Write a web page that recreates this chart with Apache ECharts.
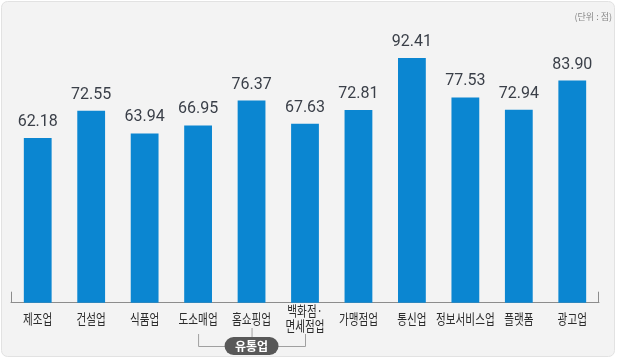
<!DOCTYPE html>
<html><head><meta charset="utf-8">
<script src="https://cdn.jsdelivr.net/npm/echarts@6/dist/echarts.min.js"></script>
<style>html,body{margin:0;padding:0;background:#fff}#c{width:622px;height:363px}</style>
</head><body><div id="c"></div>
<script>
const categories = ['제조업','건설업','식품업','도소매업','홈쇼핑업','백화점·\n면세점업','가맹점업','통신업','정보서비스업','플랫폼','광고업'];
const values = [62.18,72.55,63.94,66.95,76.37,67.63,72.81,92.41,77.53,72.94,83.90];
const unitText = '(단위 : 점)';
const groupLabel = '유통업';
const groupRange = [3,5];

const chart = echarts.init(document.getElementById('c'), null, {renderer:'canvas'});
const option = {
  backgroundColor: '#ffffff',
  animation: false,
  grid: {left: 11, right: 23, top: 38, bottom: 60.3},
  xAxis: {
    type: 'category', data: categories,
    axisLine: {lineStyle: {color: '#8c8c8c', width: 1}},
    axisTick: {show: false},
    axisLabel: {show: false}
  },
  yAxis: {type: 'value', min: 0, max: 100, show: false, splitLine: {show: false}},
  series: [{
    type: 'bar', data: values, barWidth: '52%',
    itemStyle: {color: '#0b86d1'},
    label: {show: true, position: 'top', distance: 8, color: '#3a3f48', fontSize: 16, fontFamily: 'Roboto',
      formatter: p => p.value.toFixed(2)}
  }]
};
chart.setOption(option);

function decorate(){
  const g = chart.getModel().getComponent('grid').coordinateSystem.getRect();
  const base = g.y + g.height;
  const xl = g.x, xr = g.x + g.width;
  const c0 = chart.convertToPixel({xAxisIndex:0}, groupRange[0]);
  const c1 = chart.convertToPixel({xAxisIndex:0}, groupRange[1]);
  const cm = (c0 + c1) / 2;
  const pillY = 346, topY = 334;
  const gr = [
    {type:'rect', z:-10, shape:{x:1.5,y:1.5,width:613,height:355,r:6}, style:{fill:'#f3f3f3', stroke:'#e2e2e2', lineWidth:1}},
    {type:'text', right: 10, top: 12, style:{text: unitText, fill:'#8a8a8a', fontSize: 9, fontFamily:'Noto Sans CJK KR'}},
    {type:'line', shape:{x1:xl+0.5,y1:base-11,x2:xl+0.5,y2:base}, style:{stroke:'#8c8c8c', lineWidth:1}},
    {type:'line', shape:{x1:xr-0.5,y1:base-11,x2:xr-0.5,y2:base}, style:{stroke:'#8c8c8c', lineWidth:1}},
    {type:'polyline', shape:{points:[[c0+0.5,topY],[c0+0.5,pillY+0.5],[c1+0.5,pillY+0.5],[c1+0.5,topY]]}, style:{stroke:'#a0a0a0', lineWidth:1, fill:null}},
    {type:'line', shape:{x1:cm+0.5,y1:328,x2:cm+0.5,y2:pillY}, style:{stroke:'#a0a0a0', lineWidth:1}},
    {type:'rect', shape:{x:cm-27,y:pillY-9,width:54,height:18,r:9}, style:{fill:'#585858'}},
    {type:'text', x: cm, y: pillY, style:{text: groupLabel, fill:'#fff', fontSize: 12, fontWeight:'bold', fontFamily:'Noto Sans CJK KR', align:'center', verticalAlign:'middle'}}
  ];
  categories.forEach((c, i) => {
    const x = chart.convertToPixel({xAxisIndex:0}, i);
    gr.push({type:'text', x: x, y: base + 15.5, scaleX: 0.76,
      style:{text: c, fill:'#2b2b2b', fontSize: 14, lineHeight: 14.5, fontFamily:'Noto Sans CJK KR', align:'center', verticalAlign:'middle'}});
  });
  chart.setOption({graphic: gr});
}
decorate();
</script></body></html>
